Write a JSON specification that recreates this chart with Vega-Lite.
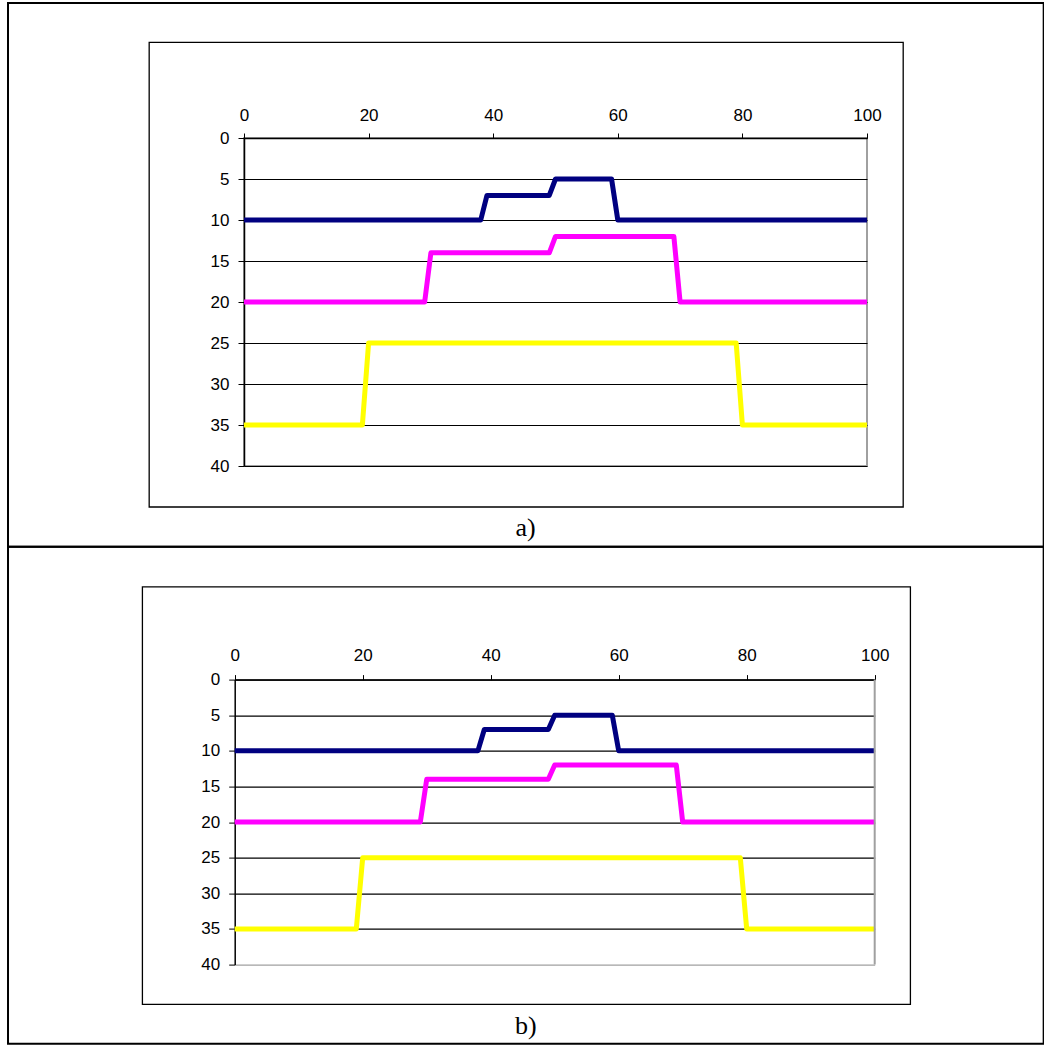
{
  "$schema": "https://vega.github.io/schema/vega-lite/v6.json",
  "padding": {"left": 6, "top": 1, "right": 0, "bottom": 0},
  "background": "white",
  "bounds": "flush",
  "spacing": 213.6,
  "config": {
    "view": {"stroke": "#a0a0a0", "strokeWidth": 2},
    "axis": {"labelFont": "Liberation Sans", "labelFontSize": 17, "labelColor": "black", "domainColor": "black", "domainWidth": 1.5, "tickColor": "black", "tickWidth": 1, "labelFlush": false, "labelOverlap": false, "title": null}
  },
  "datasets": {
    "steps": [
      {"series": "A", "x": 0, "y": 10}, {"series": "A", "x": 38, "y": 10}, {"series": "A", "x": 39, "y": 7}, {"series": "A", "x": 49, "y": 7}, {"series": "A", "x": 50, "y": 5}, {"series": "A", "x": 59, "y": 5}, {"series": "A", "x": 60, "y": 10}, {"series": "A", "x": 100, "y": 10},
      {"series": "B", "x": 0, "y": 20}, {"series": "B", "x": 29, "y": 20}, {"series": "B", "x": 30, "y": 14}, {"series": "B", "x": 49, "y": 14}, {"series": "B", "x": 50, "y": 12}, {"series": "B", "x": 69, "y": 12}, {"series": "B", "x": 70, "y": 20}, {"series": "B", "x": 100, "y": 20},
      {"series": "C", "x": 0, "y": 35}, {"series": "C", "x": 19, "y": 35}, {"series": "C", "x": 20, "y": 25}, {"series": "C", "x": 79, "y": 25}, {"series": "C", "x": 80, "y": 35}, {"series": "C", "x": 100, "y": 35}
    ]
  },
  "vconcat": [
    {
      "width": 623,
      "height": 328,
      "layer": [
        {
          "data": {"name": "steps"},
          "mark": {"type": "line", "strokeWidth": 5, "strokeJoin": "round"},
          "encoding": {
            "x": {"field": "x", "type": "quantitative", "scale": {"domain": [0, 100], "nice": false, "zero": false},
              "axis": {"orient": "top", "values": [0, 20, 40, 60, 80, 100], "grid": false, "tickSize": 5, "labelPadding": 9}},
            "y": {"field": "y", "type": "quantitative", "scale": {"domain": [0, 40], "nice": false, "reverse": true},
              "axis": {"values": [0, 5, 10, 15, 20, 25, 30, 35, 40], "grid": true, "gridWidth": 1.2, "gridColor": "black", "tickSize": 6, "labelPadding": 9}},
            "color": {"field": "series", "type": "nominal", "scale": {"domain": ["A", "B", "C"], "range": ["#000080", "#FF00FF", "#FFFF00"]}, "legend": null}
          }
        },
        {
          "data": {"values": [{}]},
          "mark": {"type": "rect", "filled": false, "stroke": "black", "strokeWidth": 2},
          "encoding": {
            "x": {"datum": -37.88, "type": "quantitative", "scale": {"domain": [0, 100], "nice": false, "zero": false},
              "axis": {"orient": "top", "values": [0, 20, 40, 60, 80, 100], "grid": false, "tickSize": 5, "labelPadding": 9}},
            "x2": {"datum": 128.36},
            "y": {"datum": -16.46, "type": "quantitative", "scale": {"domain": [0, 40], "nice": false, "reverse": true},
              "axis": {"values": [0, 5, 10, 15, 20, 25, 30, 35, 40], "grid": true, "gridWidth": 1.2, "gridColor": "black", "tickSize": 6, "labelPadding": 9}},
            "y2": {"datum": 49.85}
          }
        },
        {
          "data": {"values": [{}]},
          "mark": {"type": "rect", "filled": false, "stroke": "black", "strokeWidth": 1.3},
          "encoding": {
            "x": {"datum": -15.22, "type": "quantitative", "scale": {"domain": [0, 100], "nice": false, "zero": false},
              "axis": {"orient": "top", "values": [0, 20, 40, 60, 80, 100], "grid": false, "tickSize": 5, "labelPadding": 9}},
            "x2": {"datum": 105.81},
            "y": {"datum": -11.67, "type": "quantitative", "scale": {"domain": [0, 40], "nice": false, "reverse": true},
              "axis": {"values": [0, 5, 10, 15, 20, 25, 30, 35, 40], "grid": true, "gridWidth": 1.2, "gridColor": "black", "tickSize": 6, "labelPadding": 9}},
            "y2": {"datum": 45.0}
          }
        },
        {
          "data": {"values": [{"label": "a)"}]},
          "mark": {"type": "text", "font": "Liberation Serif", "fontSize": 26, "align": "center", "baseline": "middle", "color": "black"},
          "encoding": {
            "x": {"datum": 45.2, "type": "quantitative", "scale": {"domain": [0, 100], "nice": false, "zero": false},
              "axis": {"orient": "top", "values": [0, 20, 40, 60, 80, 100], "grid": false, "tickSize": 5, "labelPadding": 9}},
            "y": {"datum": 47.6, "type": "quantitative", "scale": {"domain": [0, 40], "nice": false, "reverse": true},
              "axis": {"values": [0, 5, 10, 15, 20, 25, 30, 35, 40], "grid": true, "gridWidth": 1.2, "gridColor": "black", "tickSize": 6, "labelPadding": 9}},
            "text": {"field": "label"}
          }
        }
      ]
    },
    {
      "width": 631,
      "height": 285,
      "view": {"stroke": null},
      "layer": [
        {
          "data": {"name": "steps"},
          "mark": {"type": "line", "strokeWidth": 5, "strokeJoin": "round"},
          "encoding": {
            "x": {"field": "x", "type": "quantitative", "scale": {"domain": [0, 100], "range": [-9.3, 630.7], "nice": false, "zero": false},
              "axis": {"orient": "top", "values": [0, 20, 40, 60, 80, 100], "grid": false, "tickSize": 5, "labelPadding": 10}},
            "y": {"field": "y", "type": "quantitative", "scale": {"domain": [0, 40], "nice": false, "reverse": true},
              "axis": {"values": [0, 5, 10, 15, 20, 25, 30, 35, 40], "offset": 9.3, "grid": true, "gridWidth": 1.2, "gridColor": {"condition": {"test": "datum.value === 40", "value": "#a0a0a0"}, "value": "black"}, "tickSize": 6, "labelPadding": 9}},
            "color": {"field": "series", "type": "nominal", "scale": {"domain": ["A", "B", "C"], "range": ["#000080", "#FF00FF", "#FFFF00"]}, "legend": null}
          }
        },
        {
          "data": {"values": [{}]},
          "mark": {"type": "rule", "stroke": "#a0a0a0", "strokeWidth": 2},
          "encoding": {
            "x": {"datum": 100, "type": "quantitative", "scale": {"domain": [0, 100], "range": [-9.3, 630.7], "nice": false, "zero": false},
              "axis": {"orient": "top", "values": [0, 20, 40, 60, 80, 100], "grid": false, "tickSize": 5, "labelPadding": 10}},
            "y": {"datum": 0, "type": "quantitative", "scale": {"domain": [0, 40], "nice": false, "reverse": true},
              "axis": {"values": [0, 5, 10, 15, 20, 25, 30, 35, 40], "offset": 9.3, "grid": true, "gridWidth": 1.2, "gridColor": {"condition": {"test": "datum.value === 40", "value": "#a0a0a0"}, "value": "black"}, "tickSize": 6, "labelPadding": 9}},
            "y2": {"datum": 40}
          }
        },
        {
          "data": {"values": [{}]},
          "mark": {"type": "rect", "filled": false, "stroke": "black", "strokeWidth": 2},
          "encoding": {
            "x": {"datum": -35.42, "type": "quantitative", "scale": {"domain": [0, 100], "range": [-9.3, 630.7], "nice": false, "zero": false},
              "axis": {"orient": "top", "values": [0, 20, 40, 60, 80, 100], "grid": false, "tickSize": 5, "labelPadding": 10}},
            "x2": {"datum": 126.4},
            "y": {"datum": -18.64, "type": "quantitative", "scale": {"domain": [0, 40], "nice": false, "reverse": true},
              "axis": {"values": [0, 5, 10, 15, 20, 25, 30, 35, 40], "offset": 9.3, "grid": true, "gridWidth": 1.2, "gridColor": {"condition": {"test": "datum.value === 40", "value": "#a0a0a0"}, "value": "black"}, "tickSize": 6, "labelPadding": 9}},
            "y2": {"datum": 51.12}
          }
        },
        {
          "data": {"values": [{}]},
          "mark": {"type": "rect", "filled": false, "stroke": "black", "strokeWidth": 1.3},
          "encoding": {
            "x": {"datum": -14.42, "type": "quantitative", "scale": {"domain": [0, 100], "range": [-9.3, 630.7], "nice": false, "zero": false},
              "axis": {"orient": "top", "values": [0, 20, 40, 60, 80, 100], "grid": false, "tickSize": 5, "labelPadding": 10}},
            "x2": {"datum": 105.58},
            "y": {"datum": -13.0, "type": "quantitative", "scale": {"domain": [0, 40], "nice": false, "reverse": true},
              "axis": {"values": [0, 5, 10, 15, 20, 25, 30, 35, 40], "offset": 9.3, "grid": true, "gridWidth": 1.2, "gridColor": {"condition": {"test": "datum.value === 40", "value": "#a0a0a0"}, "value": "black"}, "tickSize": 6, "labelPadding": 9}},
            "y2": {"datum": 45.57}
          }
        },
        {
          "data": {"values": [{"label": "b)"}]},
          "mark": {"type": "text", "font": "Liberation Serif", "fontSize": 26, "align": "center", "baseline": "middle", "color": "black"},
          "encoding": {
            "x": {"datum": 45.47, "type": "quantitative", "scale": {"domain": [0, 100], "range": [-9.3, 630.7], "nice": false, "zero": false},
              "axis": {"orient": "top", "values": [0, 20, 40, 60, 80, 100], "grid": false, "tickSize": 5, "labelPadding": 10}},
            "y": {"datum": 48.66, "type": "quantitative", "scale": {"domain": [0, 40], "nice": false, "reverse": true},
              "axis": {"values": [0, 5, 10, 15, 20, 25, 30, 35, 40], "offset": 9.3, "grid": true, "gridWidth": 1.2, "gridColor": {"condition": {"test": "datum.value === 40", "value": "#a0a0a0"}, "value": "black"}, "tickSize": 6, "labelPadding": 9}},
            "text": {"field": "label"}
          }
        }
      ]
    }
  ]
}
